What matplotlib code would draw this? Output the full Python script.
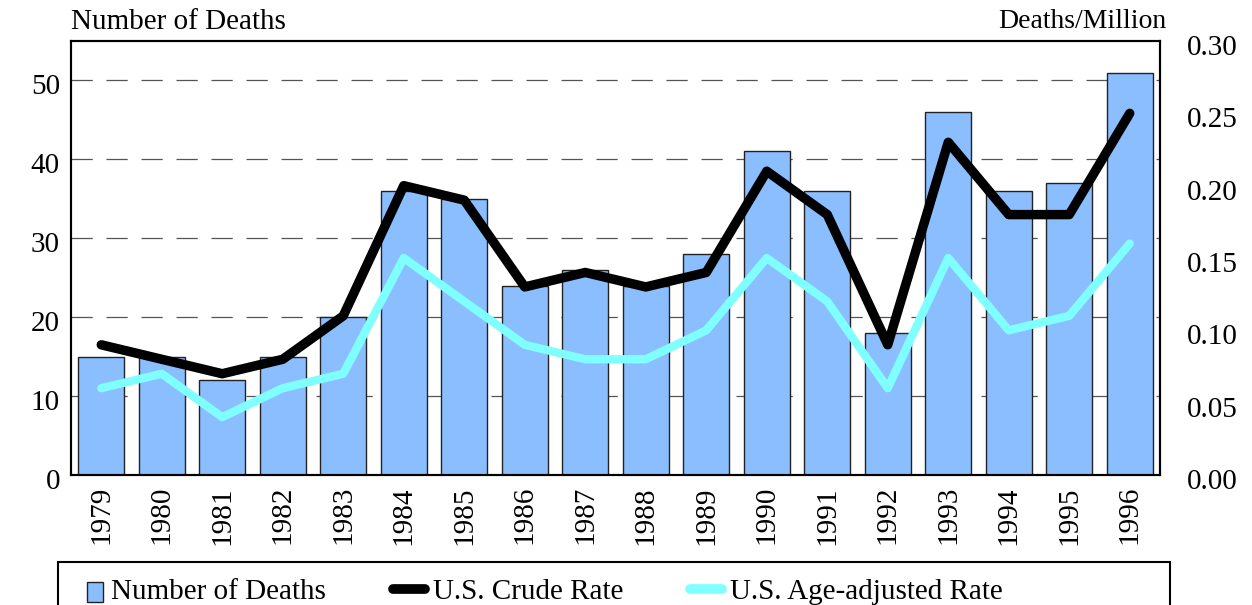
import matplotlib
matplotlib.use("Agg")
import matplotlib.pyplot as plt
import matplotlib.transforms as mtransforms
from matplotlib.patches import Rectangle
from matplotlib.lines import Line2D
from matplotlib.legend_handler import HandlerPatch

years = ["1979", "1980", "1981", "1982", "1983", "1984", "1985", "1986", "1987",
         "1988", "1989", "1990", "1991", "1992", "1993", "1994", "1995", "1996"]
deaths = [15, 15, 12, 15, 20, 36, 35, 24, 26, 24, 28, 41, 36, 18, 46, 36, 37, 51]
crude_rate = [0.09, 0.08, 0.07, 0.08, 0.11, 0.20, 0.19, 0.13, 0.14, 0.13, 0.14,
              0.21, 0.18, 0.09, 0.23, 0.18, 0.18, 0.25]
age_adj_rate = [0.06, 0.07, 0.04, 0.06, 0.07, 0.15, 0.12, 0.09, 0.08, 0.08, 0.10,
                0.15, 0.12, 0.06, 0.15, 0.10, 0.11, 0.16]
left_ticks = [0, 10, 20, 30, 40, 50]
right_ticks = [0.00, 0.05, 0.10, 0.15, 0.20, 0.25, 0.30]

plt.rcParams['font.family'] = ['Liberation Serif', 'DejaVu Serif']
FS = 21

BAR_C = '#8ABEFF'
CYAN = '#80FFFF'

fig = plt.figure(figsize=(12.52, 6.05), dpi=100)
W, H = 1252, 605
ax = fig.add_axes([71 / W, 1 - 475 / H, (1160 - 71) / W, (475 - 41) / H])
ax2 = ax.twinx()

x = list(range(len(years)))
ax.bar(x, deaths, width=0.76, color=BAR_C, edgecolor='#222222', linewidth=1.0, zorder=2)
ax.set_xlim(-0.5, len(years) - 0.5)
ax.set_ylim(0, 55)
ax.set_yticks(left_ticks)
ax.set_yticklabels([str(t) for t in left_ticks], fontsize=FS)
ax.yaxis.grid(True, color='#555555', linestyle=(0, (17, 11)), linewidth=0.9, zorder=0)
ax.set_axisbelow(True)
ax.set_xticks(x)
ax.set_xticklabels(years, rotation=90, fontsize=FS)
ax.tick_params(axis='both', length=0, pad=8)

ax2.plot(x, crude_rate, color='black', linewidth=6.8, solid_capstyle='round', zorder=3)
ax2.plot(x, age_adj_rate, color=CYAN, linewidth=6.0, solid_capstyle='round', zorder=3)
ax2.set_ylim(0, 0.30)
ax2.set_yticks(right_ticks)
ax2.set_yticklabels([f"{t:.2f}" for t in right_ticks], fontsize=FS)
ax2.tick_params(axis='y', length=0, pad=19)

# shift y tick labels slightly downward, as in the reference
offset = mtransforms.ScaledTranslation(0, -4 / 100, fig.dpi_scale_trans)
for lbl in ax.get_yticklabels() + ax2.get_yticklabels():
    lbl.set_transform(lbl.get_transform() + offset)

for a in (ax, ax2):
    for s in a.spines.values():
        s.set_linewidth(1.5)
        s.set_color('black')

fig.text(71 / W, 1 - 22 / H, "Number of Deaths", fontsize=FS, ha='left', va='center')
fig.text(1166 / W, 1 - 22 / H, "Deaths/Million", fontsize=FS - 1, ha='right', va='center')

# legend
handles = [Rectangle((0, 0), 1, 1, facecolor=BAR_C, edgecolor='#222222', linewidth=1.0),
           Line2D([], [], color='black', linewidth=7, solid_capstyle='round'),
           Line2D([], [], color=CYAN, linewidth=7, solid_capstyle='round')]
labels = ["Number of Deaths", "U.S. Crude Rate", "U.S. Age-adjusted Rate"]


def small_square(legend, orig_handle, xdescent, ydescent, width, height, fontsize):
    h = height * 1.0
    w = h * 0.75
    return Rectangle((width - w - 1, -ydescent + (height - h) / 2 - 2), w, h)


leg = fig.legend(handles, labels, loc='upper left',
                 bbox_to_anchor=(72 / W, 1 - 579 / H), ncol=3, frameon=False,
                 fontsize=FS, handlelength=1.1, handletextpad=0.25,
                 columnspacing=2.3, borderaxespad=0, borderpad=0,
                 handler_map={Rectangle: HandlerPatch(patch_func=small_square)})
fig.patches.append(Rectangle((58 / W, -0.02), (1170 - 58) / W, (1 - 562 / H) + 0.02,
                             transform=fig.transFigure, facecolor='none',
                             edgecolor='black', linewidth=1.5))

fig.savefig("out.png", dpi=100)
